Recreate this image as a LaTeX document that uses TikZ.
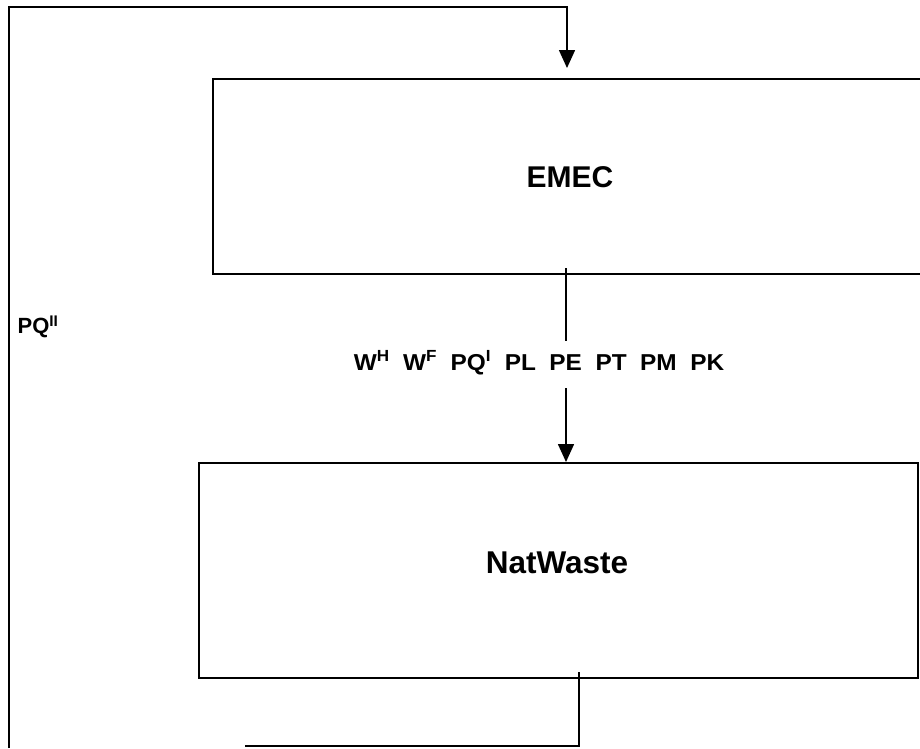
\documentclass[tikz,border=0pt]{standalone}
\usepackage{fontspec}
\setmainfont{Liberation Sans}
\usetikzlibrary{arrows.meta}
\begin{document}
\begin{tikzpicture}[x=1pt,y=-1pt,
  box/.style={draw,line width=1.6pt,rectangle,inner sep=0pt,anchor=north west},
  flow/.style={line width=1.6pt},
  arr/.style={flow,-{Triangle[length=18pt,width=16pt]}},
  bigtxt/.style={font=\fontsize{30}{34}\selectfont\bfseries,inner sep=0pt},
  smalltxt/.style={font=\fontsize{22}{26}\selectfont\bfseries,inner sep=0pt}]
\useasboundingbox (0,0) rectangle (920,748);
\clip (0,0) rectangle (920,748);

% the two model blocks
\node[box,minimum width=740pt,minimum height=195pt] (emec) at (212,78) {};
\node[bigtxt] (emectxt) at (570,177) {EMEC};
\node[box,minimum width=719pt,minimum height=215pt] (natwaste) at (198,462) {};
\node[bigtxt,font=\fontsize{31.5}{35}\selectfont\bfseries] (nattxt) at (557,563) {NatWaste};

% flow variables passed from EMEC to NatWaste
\node[smalltxt,font=\fontsize{23}{27}\selectfont\bfseries,xscale=1.06] (vars) at (539,363)
  {W\textsuperscript{H}\ \ W\textsuperscript{F}\ \ PQ\textsuperscript{I}\ \ PL\ \ PE\ \ PT\ \ PM\ \ PK};
\coordinate (emecout) at (566,268);
\coordinate (varstop) at (566,341);
\coordinate (varsbot) at (566,388);
\draw[flow] (emecout) -- (varstop);
\draw[arr] (varsbot) -- (natwaste.north -| varsbot);

% feedback loop from NatWaste back into EMEC
\node[smalltxt] (pq2) at (38,327) {PQ\textsuperscript{II}};
\coordinate (natout) at (579,672);
\coordinate (loopb) at (579,746);
\coordinate (loopend) at (245,746);
\coordinate (leftbot) at (9,748);
\coordinate (lefttop) at (9,7);
\coordinate (toparr) at (567,7);
\draw[flow] (natout) -- (loopb) -- (loopend);
\draw[arr,shorten >=10pt] (leftbot) -- (lefttop) -- (toparr) -- (emec.north -| toparr);
\end{tikzpicture}
\end{document}
